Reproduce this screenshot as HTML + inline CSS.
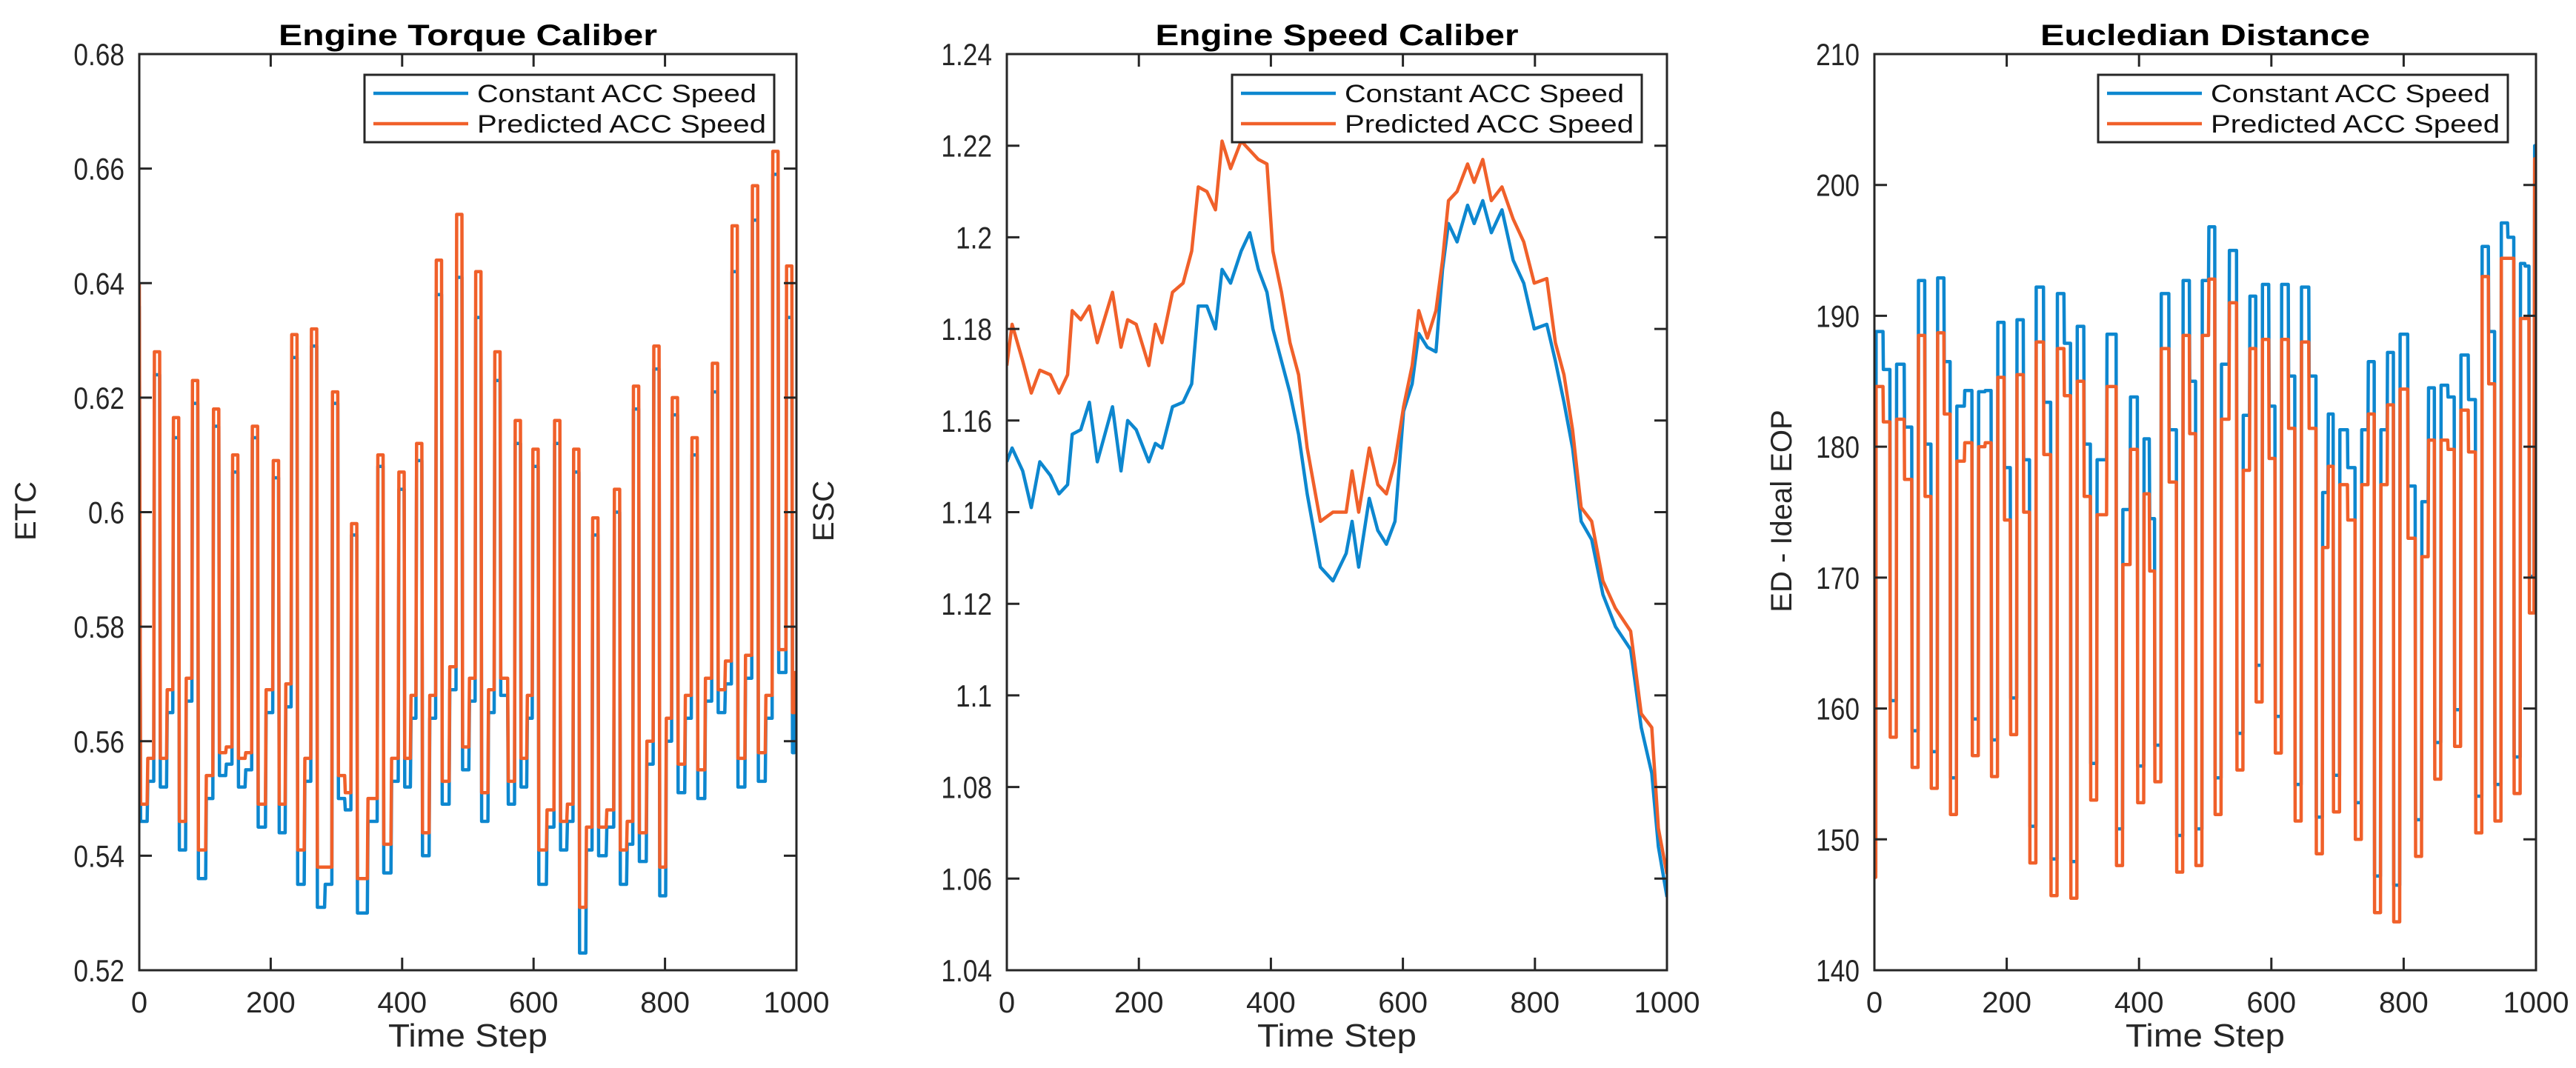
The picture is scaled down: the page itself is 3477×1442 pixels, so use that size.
<!DOCTYPE html>
<html><head><meta charset="utf-8"><style>
html,body{margin:0;padding:0;background:#fff;}
svg{display:block;font-family:"Liberation Sans",Arial,sans-serif;}
</style></head><body>
<svg id="fig" width="3477" height="1442" viewBox="0 0 3477 1442" xmlns="http://www.w3.org/2000/svg">
<rect width="3477" height="1442" fill="#fff"/>
</svg>
<script>
// ===== Panel 1: Engine Torque Caliber =====
const etcCenters=[27,56,85,117,146,176,208,236,266,298,327,367,399,426,456,487,516,545,576,603,636,665,694,727,756,787,815,845,876,906,937,968,989];
const etcRedHigh=[0.628,0.6165,0.623,0.618,0.610,0.615,0.609,0.631,0.632,0.621,0.598,0.610,0.607,0.612,0.644,0.652,0.642,0.628,0.616,0.611,0.616,0.611,0.599,0.604,0.622,0.629,0.620,0.613,0.626,0.650,0.657,0.663,0.643];
const etcBlueHigh=[0.624,0.613,0.619,0.615,0.607,0.613,0.606,0.627,0.629,0.619,0.596,0.608,0.604,0.609,0.638,0.641,0.634,0.623,0.612,0.608,0.612,0.607,0.596,0.600,0.618,0.625,0.617,0.610,0.621,0.642,0.651,0.659,0.634];
const etcRedLowA=[0.557,0.546,0.541,0.558,0.557,0.549,0.549,0.541,0.538,0.554,0.536,0.542,0.557,0.544,0.553,0.559,0.551,0.571,0.557,0.541,0.546,0.531,0.545,0.541,0.544,0.538,0.556,0.555,0.569,0.557,0.558,0.576,0.565];
const etcRedLowB=[0.569,0.571,0.554,0.559,0.558,0.569,0.570,0.557,0.538,0.551,0.550,0.557,0.568,0.568,0.573,0.571,0.569,0.553,0.568,0.548,0.549,0.545,0.548,0.546,0.560,0.564,0.568,0.571,0.574,0.575,0.568,0.576,0.572];
const etcBlueLowA=[0.552,0.541,0.536,0.554,0.552,0.545,0.544,0.535,0.531,0.550,0.530,0.537,0.552,0.540,0.549,0.555,0.546,0.568,0.552,0.535,0.541,0.523,0.540,0.535,0.539,0.533,0.551,0.550,0.565,0.552,0.553,0.572,0.558];
const etcBlueLowB=[0.565,0.567,0.550,0.556,0.555,0.565,0.566,0.553,0.535,0.548,0.546,0.553,0.564,0.564,0.569,0.567,0.565,0.549,0.564,0.545,0.546,0.541,0.545,0.542,0.556,0.560,0.564,0.567,0.570,0.571,0.564,0.572,0.566];
const etcStart=[0.640,0.549,0.557];
const etcStartBlue=[0.636,0.546,0.553];
const etcTicks=["0.52","0.54","0.56","0.58","0.6","0.62","0.64","0.66","0.68"];

// ===== Panel 2: Engine Speed Caliber =====
const escSteps=[0,8,24,37,50,66,79,92,99,112,125,137,160,173,183,196,215,225,235,251,267,280,290,303,316,326,339,355,368,381,394,403,416,429,442,455,475,494,514,523,533,549,562,575,588,601,614,624,637,650,660,669,682,698,708,721,734,750,767,783,799,818,831,844,857,870,886,903,922,945,961,977,987,1000];
const escRed=[1.172,1.181,1.173,1.166,1.171,1.170,1.166,1.170,1.184,1.182,1.185,1.177,1.188,1.176,1.182,1.181,1.172,1.181,1.177,1.188,1.190,1.197,1.211,1.210,1.206,1.221,1.215,1.221,1.219,1.217,1.216,1.197,1.188,1.177,1.170,1.154,1.138,1.140,1.140,1.149,1.140,1.154,1.146,1.144,1.151,1.163,1.172,1.184,1.178,1.184,1.195,1.208,1.210,1.216,1.212,1.217,1.208,1.211,1.204,1.199,1.190,1.191,1.177,1.170,1.158,1.141,1.138,1.125,1.119,1.114,1.096,1.093,1.071,1.061];
const escBlue=[1.151,1.154,1.149,1.141,1.151,1.148,1.144,1.146,1.157,1.158,1.164,1.151,1.163,1.149,1.160,1.158,1.151,1.155,1.154,1.163,1.164,1.168,1.185,1.185,1.180,1.193,1.190,1.197,1.201,1.193,1.188,1.180,1.173,1.166,1.157,1.144,1.128,1.125,1.131,1.138,1.128,1.143,1.136,1.133,1.138,1.162,1.168,1.179,1.176,1.175,1.193,1.203,1.199,1.207,1.203,1.208,1.201,1.206,1.195,1.190,1.180,1.181,1.173,1.164,1.154,1.138,1.134,1.122,1.115,1.110,1.093,1.083,1.067,1.056];
const escTicks=["1.04","1.06","1.08","1.1","1.12","1.14","1.16","1.18","1.2","1.22","1.24"];

// ===== Panel 3: Eucledian Distance =====
const edDrops=[24,57,86,115,148,177,206,235,267,297,327,366,398,424,457,486,515,548,577,606,636,668,694,727,756,785,818,847,877,909,938,967,990];
const edRedH1=[184.6,182.1,188.5,188.7,178.9,180.0,185.3,185.5,188.0,187.5,185.0,174.8,171.0,176.4,187.5,188.5,188.5,182.1,178.2,188.2,188.2,188.0,172.3,177.1,177.1,177.1,184.4,171.6,180.5,182.8,193.0,194.4,189.8];
const edRedH2=[181.9,177.5,176.2,182.5,180.3,180.3,174.4,175.0,179.4,183.9,176.2,184.6,179.8,170.5,177.3,181.0,192.8,191.0,187.5,179.1,181.4,181.4,178.5,174.4,182.5,183.2,173.0,180.5,179.8,179.6,184.8,194.4,189.8];
const edRedLow=[157.8,155.5,153.9,151.9,156.4,154.8,158.0,148.2,145.7,145.5,153.0,148.0,152.8,154.4,147.5,148.0,151.9,155.3,160.5,156.6,151.4,148.9,152.1,150.0,144.4,143.7,148.7,154.6,157.1,150.5,151.4,153.5,167.3];
const edBlueH1=[188.8,186.3,192.7,192.9,183.1,184.2,189.5,189.7,192.2,191.7,189.2,179.0,175.2,180.6,191.7,192.7,192.7,186.3,182.4,192.4,192.4,192.2,176.5,181.3,181.3,181.3,188.6,175.8,184.7,187.0,195.3,197.1,194.0];
const edBlueH2=[185.9,181.5,180.2,186.5,184.3,184.3,178.4,179.0,183.4,187.9,180.2,188.6,183.8,174.5,181.3,185.0,196.8,195.0,191.5,183.1,185.4,185.4,182.5,178.4,186.5,187.2,177.0,184.5,183.8,183.6,188.8,196.0,193.8];
const edBlueLow=[160.6,158.3,156.7,154.7,159.2,157.6,160.8,151.0,148.5,148.3,155.8,150.8,155.6,157.2,150.3,150.8,154.7,158.1,163.3,159.4,154.2,151.7,154.9,152.8,147.2,146.5,151.5,157.4,159.9,153.3,154.2,156.3,170.1];
const edRedEnds=[147.1,202.0];
const edBlueEnds=[147.5,203.0];
const edTicks=["140","150","160","170","180","190","200","210"];
const xTicks=["0","200","400","600","800","1000"];

const RED="#f0602a", BLUE="#0d87cf", AX="#262626";
const svg=document.getElementById('fig');
const NS="http://www.w3.org/2000/svg";
function mk(tag,attrs,parent){const e=document.createElementNS(NS,tag);for(const k in attrs)e.setAttribute(k,attrs[k]);(parent||svg).appendChild(e);return e;}

function panel(cfg){
  const g=mk('g',{});
  
  
  const L=cfg.x0,R=cfg.x1,T=73,B=1310;
  const ymin=parseFloat(cfg.ticks[0]),ymax=parseFloat(cfg.ticks[cfg.ticks.length-1]);
  const sx=v=>L+(v/1000)*(R-L);
  const sy=v=>B-(v-ymin)/(ymax-ymin)*(B-T);
  const clip=mk('clipPath',{id:cfg.name+'-clip'},g);
  mk('rect',{x:L,y:T,width:R-L,height:B-T},clip);
  cfg.series.forEach(s=>{
    const d=s.pts.map((p,i)=>(i?'L':'M')+sx(p[0]).toFixed(1)+','+sy(p[1]).toFixed(1)).join('');
    const p=mk('path',{d:d,fill:'none',stroke:s.color,'stroke-width':4.5,'stroke-linejoin':'round','clip-path':'url(#'+cfg.name+'-clip)'},g);
    
    
  });
  const box=mk('rect',{x:L,y:T,width:R-L,height:B-T,fill:'none',stroke:AX,'stroke-width':3},g);
  
  
  cfg.ticks.forEach(t=>{
    const y=sy(parseFloat(t));
    mk('line',{x1:L,x2:L+17,y1:y,y2:y,stroke:AX,'stroke-width':3},g);
    mk('line',{x1:R,x2:R-17,y1:y,y2:y,stroke:AX,'stroke-width':3},g);
    const tx=mk('text',{x:0,y:0,'text-anchor':'end','font-size':42,fill:'#262626',transform:'translate('+(L-20)+','+(y+15)+') scale(0.84,1)'},g);
    tx.textContent=t;
    
    
  });
  xTicks.forEach(t=>{
    const x=sx(parseFloat(t));
    mk('line',{x1:x,x2:x,y1:B,y2:B-17,stroke:AX,'stroke-width':3},g);
    mk('line',{x1:x,x2:x,y1:T,y2:T+17,stroke:AX,'stroke-width':3},g);
    const tx=mk('text',{x:x,y:1367,'text-anchor':'middle','font-size':40,fill:'#262626'},g);
    tx.textContent=t;
    
    
  });
  const ttl=mk('text',{x:(L+R)/2,y:61,'text-anchor':'middle','font-size':40,'font-weight':'bold',fill:'#000',textLength:cfg.titleW,lengthAdjust:'spacingAndGlyphs'},g);
  ttl.textContent=cfg.title;
  
  
  const xl=mk('text',{x:(L+R)/2,y:1413,'text-anchor':'middle','font-size':44,fill:'#262626',textLength:215,lengthAdjust:'spacingAndGlyphs'},g);
  xl.textContent='Time Step';
  
  
  const yl=mk('text',{x:0,y:0,'text-anchor':'middle','font-size':40,fill:'#262626',transform:'translate('+cfg.ylx+',690) rotate(-90)'},g);
  yl.textContent=cfg.ylabel;
  
  
  const lg=mk('g',{},g);
  
  
  const lx=cfg.legX;
  mk('rect',{x:lx,y:101,width:553,height:91,fill:'#fff',stroke:AX,'stroke-width':3},lg);
  [['Constant ACC Speed',BLUE,126,377],['Predicted ACC Speed',RED,167,390]].forEach(e=>{
    const le=mk('g',{},lg);
    
    
    mk('line',{x1:lx+12,x2:lx+140,y1:e[2],y2:e[2],stroke:e[1],'stroke-width':4.5},le);
    const t=mk('text',{x:lx+152,y:e[2]+12,'font-size':34,fill:'#111',textLength:e[3],lengthAdjust:'spacingAndGlyphs'},le);
    t.textContent=e[0];
  });
}

function etcSeries(high,lowA,lowB,start){
  const pts=[[0,start[0]],[2,start[1]],[12,start[1]],[13,start[2]]];
  let prevB=start[2];
  for(let k=0;k<etcCenters.length;k++){
    const c=etcCenters[k],rise=c-5,fall=c+5;
    const next=k+1<etcCenters.length?etcCenters[k+1]-5:1000;
    const mid=(fall+next)/2;
    pts.push([rise,prevB],[rise+1,high[k]],[fall-1,high[k]],[fall,lowA[k]],[mid,lowA[k]],[Math.min(mid+1,next),lowB[k]],[next,lowB[k]]);
    prevB=lowB[k];
  }
  return pts;
}
function edSeries(h1,h2,low,ends){
  const pts=[[0,ends[0]]];
  let prevLow=ends[0];
  for(let k=0;k<edDrops.length;k++){
    const rise=k===0?2:edDrops[k-1]+9;
    const d=edDrops[k],m=(rise+d)/2;
    pts.push([rise,prevLow],[rise+0.6,h1[k]],[m,h1[k]],[m+0.6,h2[k]],[d-0.6,h2[k]],[d,low[k]]);
    prevLow=low[k];
  }
  pts.push([997,prevLow],[998,ends[1]],[1000,ends[1]]);
  return pts;
}

panel({name:'etc-panel',x0:188,x1:1075,ticks:etcTicks,title:'Engine Torque Caliber',titleW:511,ylabel:'ETC',ylx:48,legX:492,
  series:[{name:'constant-acc-line',color:BLUE,pts:etcSeries(etcBlueHigh,etcBlueLowA,etcBlueLowB,etcStartBlue)},
          {name:'predicted-acc-line',color:RED,pts:etcSeries(etcRedHigh,etcRedLowA,etcRedLowB,etcStart)}]});
panel({name:'esc-panel',x0:1359,x1:2250,ticks:escTicks,title:'Engine Speed Caliber',titleW:490,ylabel:'ESC',ylx:1125,legX:1663,
  series:[{name:'constant-acc-line',color:BLUE,pts:escSteps.map((s,i)=>[s,escBlue[i]])},
          {name:'predicted-acc-line',color:RED,pts:escSteps.map((s,i)=>[s,escRed[i]])}]});
panel({name:'ed-panel',x0:2530,x1:3423,ticks:edTicks,title:'Eucledian Distance',titleW:445,ylabel:'ED - Ideal EOP',ylx:2418,legX:2832,
  series:[{name:'constant-acc-line',color:BLUE,pts:edSeries(edBlueH1,edBlueH2,edBlueLow,edBlueEnds)},
          {name:'predicted-acc-line',color:RED,pts:edSeries(edRedH1,edRedH2,edRedLow,edRedEnds)}]});
</script>
</body></html>
